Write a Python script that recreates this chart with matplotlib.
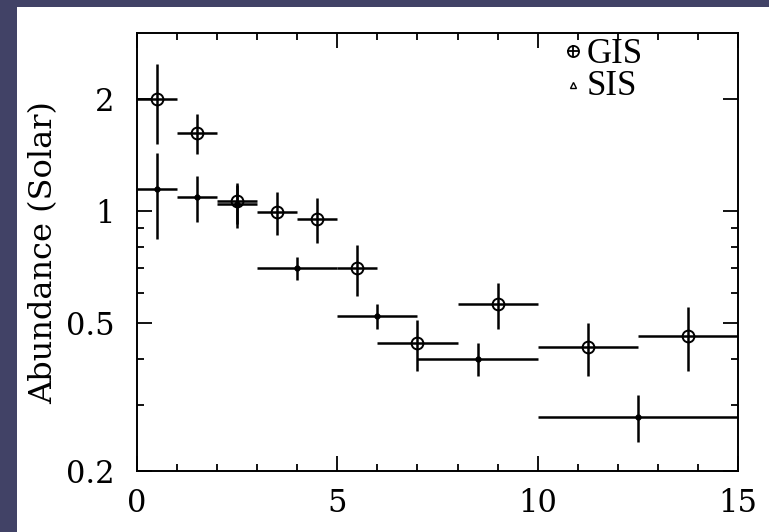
import matplotlib
matplotlib.use('Agg')
import matplotlib.pyplot as plt
from matplotlib.patches import Rectangle
from matplotlib.ticker import FixedLocator, NullFormatter
import numpy as np

# GIS measurements (open circles)
gis_x = [0.5, 1.5, 2.5, 3.5, 4.5, 5.5, 7.0, 9.0, 11.25, 13.75]
gis_x_lo = [0, 1, 2, 3, 4, 5, 6, 8, 10, 12.5]
gis_x_hi = [1, 2, 3, 4, 5, 6, 8, 10, 12.5, 15]
gis_y = [2.0, 1.62, 1.06, 0.99, 0.95, 0.70, 0.44, 0.56, 0.43, 0.46]
gis_y_lo = [1.51, 1.42, 0.90, 0.86, 0.82, 0.59, 0.37, 0.48, 0.36, 0.37]
gis_y_hi = [2.48, 1.82, 1.19, 1.12, 1.08, 0.81, 0.51, 0.64, 0.50, 0.55]

# SIS measurements (small dots)
sis_x = [0.5, 1.5, 2.5, 4.0, 6.0, 8.5, 12.5]
sis_x_lo = [0, 1, 2, 3, 5, 7, 10]
sis_x_hi = [1, 2, 3, 5, 7, 10, 15]
sis_y = [1.14, 1.09, 1.04, 0.70, 0.52, 0.40, 0.28]
sis_y_lo = [0.84, 0.93, 0.92, 0.65, 0.48, 0.36, 0.24]
sis_y_hi = [1.43, 1.24, 1.17, 0.75, 0.56, 0.44, 0.32]

y_ticks = [0.2, 0.5, 1, 2]
y_tick_labels = ["0.2", "0.5", "1", "2"]
y_minor = [0.3, 0.4, 0.6, 0.7, 0.8, 0.9]
x_ticks = [0, 5, 10, 15]

def errs(c, lo, hi):
    c = np.array(c)
    return [c - np.array(lo), np.array(hi) - c]

fig = plt.figure(figsize=(7.69, 5.32), dpi=100)
fig.patch.set_facecolor('#414266')
fig.patches.append(Rectangle((17 / 769, 0), 1, 525 / 532, transform=fig.transFigure,
                             facecolor='white', edgecolor='none', zorder=-1))
ax = fig.add_axes([137 / 769, 61 / 532, 601 / 769, 438 / 532])
ax.set_zorder(2)
ax.set_facecolor('white')

ax.errorbar(gis_x, gis_y, xerr=errs(gis_x, gis_x_lo, gis_x_hi), yerr=errs(gis_y, gis_y_lo, gis_y_hi),
            fmt='o', mfc='none', mec='black', ms=8.5, mew=1.4, ecolor='black', elinewidth=1.8, capsize=0)
ax.errorbar(sis_x, sis_y, xerr=errs(sis_x, sis_x_lo, sis_x_hi), yerr=errs(sis_y, sis_y_lo, sis_y_hi),
            fmt='o', mfc='black', mec='black', ms=3.5, ecolor='black', elinewidth=1.8, capsize=0)

ax.set_yscale('log')
ax.set_xlim(0, 15)
ax.set_ylim(0.2, 3.0)
ax.set_yticks(y_ticks)
ax.set_yticklabels(y_tick_labels)
ax.yaxis.set_minor_locator(FixedLocator(y_minor))
ax.yaxis.set_minor_formatter(NullFormatter())
ax.set_xticks(x_ticks)
ax.set_xticklabels([str(t) for t in x_ticks])
ax.xaxis.set_minor_locator(FixedLocator(list(range(16))))

ax.tick_params(which='both', direction='in', top=True, right=True, width=1.3, color='black',
               labelsize=22, labelfontfamily='DejaVu Serif')
ax.tick_params(which='major', length=11)
ax.tick_params(which='minor', length=5)
ax.tick_params(axis='y', which='major', pad=16)
ax.tick_params(axis='x', which='major', pad=12)
for sp in ax.spines.values():
    sp.set_linewidth(1.4)

fig.text(44 / 769, 0.526, "Abundance (Solar)", rotation=90, fontsize=23, family='DejaVu Serif',
         ha='center', va='center')

# legend drawn by hand, like the original figure
ax.plot([0.725], [0.958], marker='o', ms=8, mfc='none', mec='black', mew=1.3, transform=ax.transAxes, clip_on=False)
ax.plot([0.725], [0.958], marker='+', ms=8, mec='black', mew=1.3, transform=ax.transAxes, clip_on=False)
ax.plot([0.725], [0.882], marker='^', ms=4.5, mfc='none', mec='black', mew=1.0, transform=ax.transAxes, clip_on=False)
ax.text(0.748, 0.952, "GIS", transform=ax.transAxes, fontsize=25, family='Liberation Serif', va='center', ha='left')
ax.text(0.748, 0.877, "SIS", transform=ax.transAxes, fontsize=25, family='Liberation Serif', va='center', ha='left')

plt.savefig('out.png', dpi=100, facecolor=fig.get_facecolor())
